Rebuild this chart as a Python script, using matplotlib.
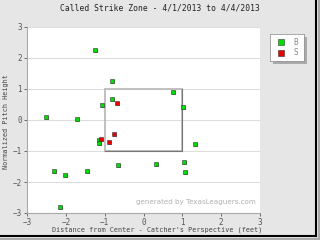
import matplotlib
matplotlib.use("Agg")
import matplotlib.pyplot as plt
import matplotlib.transforms as mtransforms
from matplotlib.patches import Rectangle
from matplotlib.lines import Line2D

# pitch locations
ball_x = [-1.25, -0.82, -0.82, -1.06, 0.75, 1.03, -2.50, -1.71, -1.14, -1.15,
          1.32, -2.31, -2.03, -1.46, -0.66, 0.32, 1.04, 1.06, -2.15]
ball_y = [2.26, 1.27, 0.67, 0.47, 0.89, 0.41, 0.09, 0.03, -0.65, -0.73,
          -0.77, -1.63, -1.78, -1.66, -1.46, -1.42, -1.35, -1.68, -2.82]
strike_x = [-0.67, -1.10, -0.75, -0.90]
strike_y = [0.56, -0.61, -0.45, -0.71]

zone_left, zone_right = -1, 1
zone_bottom, zone_top = -1, 1

title = "Called Strike Zone - 4/1/2013 to 4/4/2013"
xlab = "Distance from Center - Catcher's Perspective (feet)"
ylab = "Normalized Pitch Height"

plt.rcParams['font.family'] = 'DejaVu Sans Mono'

fig = plt.figure(figsize=(3.2, 2.4), dpi=100, facecolor='#e6e6e6')
ax = fig.add_axes([27/320, 27/240, 233/320, 186/240])
ax.set_facecolor('white')
ax.set_xlim(-3, 3)
ax.set_ylim(-3, 3)
ax.set_xticks(range(-3, 4))
ax.set_yticks(range(-3, 4))
ax.tick_params(labelsize=5.5, colors='#555555', length=2, width=0.6, pad=1.5)
ax.yaxis.grid(True, color='#dddddd', lw=0.8)
ax.set_axisbelow(True)
for s in ['top', 'right']:
    ax.spines[s].set_visible(False)
for s in ['left', 'bottom']:
    ax.spines[s].set_color('#aaaaaa')
    ax.spines[s].set_linewidth(0.8)

# strike zone box
ax.add_patch(Rectangle((zone_left, zone_bottom), zone_right - zone_left,
                       zone_top - zone_bottom, fill=False, ec='#bbbbbb', lw=1.3, zorder=2))
ax.plot([zone_right, zone_right, zone_left], [zone_top, zone_bottom, zone_bottom],
        color='#777777', lw=0.8, zorder=2)

shadow = ax.transData + mtransforms.ScaledTranslation(1/100, -1/100, fig.dpi_scale_trans)
for xs, ys, col in [(ball_x, ball_y, '#00dd00'), (strike_x, strike_y, '#ee0000')]:
    ax.scatter(xs, ys, s=11, marker='s', color='#999999', lw=0, transform=shadow, zorder=3)
    ax.scatter(xs, ys, s=11, marker='s', color=col, ec='#333333', lw=0.4, zorder=4)

ax.text(2.9, -2.75, "generated by TexasLeaguers.com", fontsize=5.1, color='#b0b0b0',
        family='DejaVu Sans', ha='right', va='bottom')

fig.text(160/320, 232/240, title, ha='center', va='center', fontsize=5.8, color='#222222')
fig.text(157/320, 10/240, xlab, ha='center', va='center', fontsize=4.9, color='#444444')
fig.text(6/320, 118/240, ylab, ha='center', va='center', rotation=90, fontsize=4.9, color='#444444')

# legend shadow and box
sax = fig.add_axes([273/320, 176/240, 34/320, 27/240])
sax.axis('off')
sax.add_patch(Rectangle((0, 0), 1, 1, transform=sax.transAxes, color='#aaaaaa'))
lax = fig.add_axes([270/320, 179/240, 34/320, 27/240])
lax.set_xlim(0, 1)
lax.set_ylim(0, 1)
lax.set_xticks([])
lax.set_yticks([])
lax.set_facecolor('white')
for s in lax.spines.values():
    s.set_color('#999999')
    s.set_linewidth(0.6)
lax.scatter([0.33], [0.7], s=20, marker='s', color='#00dd00', ec='#333333', lw=0.4)
lax.scatter([0.33], [0.3], s=20, marker='s', color='#ee0000', ec='#333333', lw=0.4)
lax.text(0.68, 0.7, "B", fontsize=5.5, color='#888888', va='center')
lax.text(0.68, 0.3, "S", fontsize=5.5, color='#888888', va='center')

# outer frame: dark right/bottom edge with grey shadow
fig.add_artist(Line2D([316/320, 316/320], [4/240, 1], transform=fig.transFigure,
                      color='black', lw=1.5))
fig.add_artist(Line2D([0, 316/320], [4/240, 4/240], transform=fig.transFigure,
                      color='black', lw=1.5))
fig.patches.append(Rectangle((318/320, 0), 2/320, 1, transform=fig.transFigure,
                             color='#aaaaaa', lw=0))
fig.patches.append(Rectangle((0, 0), 1, 2/240, transform=fig.transFigure,
                             color='#aaaaaa', lw=0))

fig.savefig("out.png", dpi=100, facecolor=fig.get_facecolor())
